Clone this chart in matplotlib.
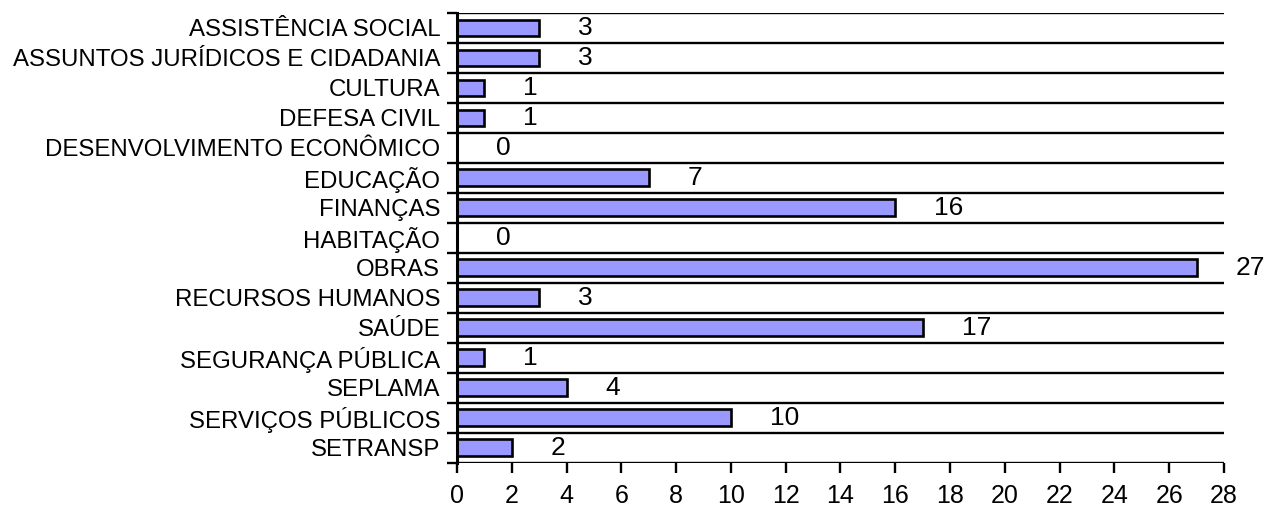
import numpy as np
import matplotlib.pyplot as plt

categories = ['ASSISTÊNCIA SOCIAL', 'ASSUNTOS JURÍDICOS E CIDADANIA', 'CULTURA',
              'DEFESA CIVIL', 'DESENVOLVIMENTO ECONÔMICO', 'EDUCAÇÃO', 'FINANÇAS',
              'HABITAÇÃO', 'OBRAS', 'RECURSOS HUMANOS', 'SAÚDE', 'SEGURANÇA PÚBLICA',
              'SEPLAMA', 'SERVIÇOS PÚBLICOS', 'SETRANSP']
values = [3, 3, 1, 1, 0, 7, 16, 0, 27, 3, 17, 1, 4, 10, 2]
x_ticks = list(range(0, 29, 2))

plt.rcParams['font.family'] = ['Liberation Sans', 'DejaVu Sans']

fig = plt.figure(figsize=(12.68, 5.07), dpi=100)
ax = fig.add_axes([0.3604, 0.0874, 0.6049, 0.887])

n = len(categories)
y = np.arange(n)
ax.barh(y, values, height=0.56, color='#9999FF', edgecolor='black', linewidth=1.9, zorder=3)

# horizontal grid lines at category boundaries
bounds = np.arange(n + 1) - 0.5
for b in bounds:
    ax.axhline(b, color='black', linewidth=1.7, zorder=2)

for yi, v in zip(y, values):
    ax.annotate(str(v), (v, yi), xytext=(28, 0), textcoords='offset points',
                ha='left', va='center', fontsize=19)

ax.set_xlim(0, 28)
ax.set_ylim(n - 0.5, -0.5)
ax.set_xticks(x_ticks)
ax.set_xticklabels([str(t) for t in x_ticks], fontsize=18)
ax.set_yticks(y)
ax.set_yticklabels(categories, fontsize=17.3)
ax.set_yticks(bounds, minor=True)
ax.tick_params(axis='y', which='major', length=0, pad=12)
ax.tick_params(axis='y', which='minor', length=7, width=1.7, direction='out')
ax.tick_params(axis='x', length=7.5, width=1.7, direction='out', pad=8)

for s in ['top', 'right', 'bottom']:
    ax.spines[s].set_visible(False)
ax.spines['left'].set_linewidth(2.2)
ax.spines['left'].set_zorder(4)

fig.savefig('out.png', dpi=100)
